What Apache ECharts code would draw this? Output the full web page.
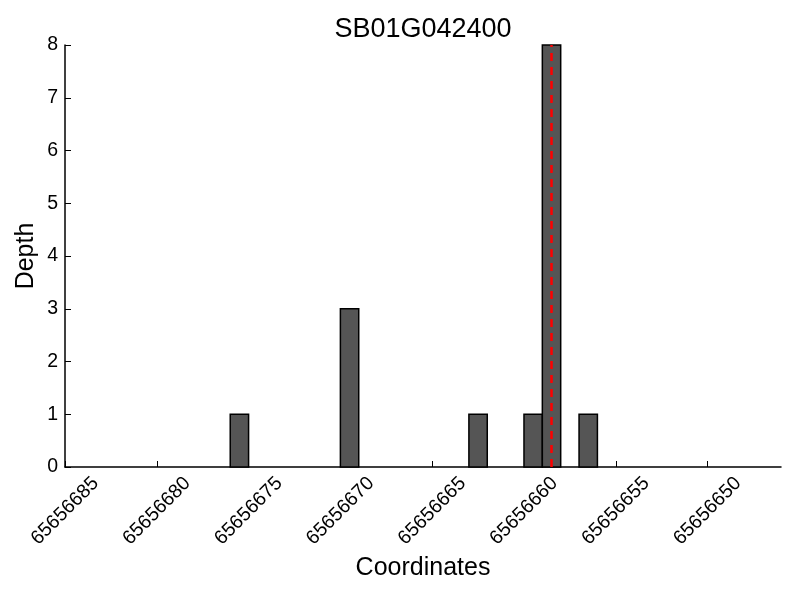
<!DOCTYPE html>
<html>
<head>
<meta charset="utf-8">
<script src="https://cdn.jsdelivr.net/npm/echarts@6/dist/echarts.min.js"></script>
<style>html,body{margin:0;padding:0;background:#fff}#c{width:800px;height:600px}</style>
</head>
<body>
<div id="c"></div>
<script>
// Bin lower edges (each bin is 1 coordinate wide) and depth values
var binStarts = [65656675, 65656669, 65656662, 65656659, 65656658, 65656656];
var depths = [1, 3, 1, 1, 8, 1];
var markerPos = 65656658.5;
var xTicks = [65656650, 65656655, 65656660, 65656665, 65656670, 65656675, 65656680, 65656685];
var yTicks = [0, 1, 2, 3, 4, 5, 6, 7, 8];
var titleText = 'SB01G042400';

var FONT = 'Liberation Sans, Arial, sans-serif';
var chart = echarts.init(document.getElementById('c'), null, {renderer: 'canvas'});
var barData = binStarts.map(function (s, i) { return [s, s + 1, depths[i]]; });

chart.setOption({
  animation: false,
  backgroundColor: '#fff',
  title: {
    text: titleText, left: 418, top: 11, textAlign: 'center',
    textStyle: {fontFamily: FONT, fontSize: 27, fontWeight: 'normal', color: '#000'}
  },
  grid: {left: 65, right: 19, top: 45, bottom: 133, containLabel: false},
  xAxis: {
    type: 'value', inverse: true, min: 65656646, max: 65656685,
    name: 'Coordinates', nameLocation: 'middle', nameGap: 89, nameMoveOverlap: false,
    nameTextStyle: {fontFamily: FONT, fontSize: 25, color: '#000'},
    axisLine: {show: true, onZero: false, lineStyle: {color: '#000', width: 1.5}},
    axisTick: {show: true, inside: true, length: 6, customValues: xTicks, lineStyle: {color: '#000'}},
    axisLabel: {
      customValues: xTicks, rotate: 45, align: 'center', verticalAlign: 'middle', margin: 44,
      fontFamily: FONT, fontSize: 19.5, color: '#000',
      formatter: function (v) { return String(v); }
    },
    splitLine: {show: false}
  },
  yAxis: {
    type: 'value', min: 0, max: 8, interval: 1,
    name: 'Depth', nameLocation: 'middle', nameGap: 26, nameMoveOverlap: false,
    nameTextStyle: {fontFamily: FONT, fontSize: 25, color: '#000'},
    axisLine: {show: true, lineStyle: {color: '#000', width: 1.5}},
    axisTick: {show: true, inside: true, length: 6, lineStyle: {color: '#000'}},
    axisLabel: {fontFamily: FONT, fontSize: 19.5, color: '#000', margin: 7},
    splitLine: {show: false}
  },
  series: [
    {
      type: 'custom',
      data: barData,
      encode: {x: [0, 1], y: 2},
      renderItem: function (params, api) {
        var p0 = api.coord([api.value(0), 0]);
        var p1 = api.coord([api.value(1), api.value(2)]);
        var x = Math.min(p0[0], p1[0]);
        var w = Math.abs(p1[0] - p0[0]);
        return {
          type: 'rect',
          shape: {x: x, y: p1[1], width: w, height: p0[1] - p1[1]},
          style: {fill: '#555555', stroke: '#000', lineWidth: 1.5}
        };
      },
      z: 2
    },
    {
      type: 'line',
      data: [[markerPos, 0], [markerPos, 8]],
      symbol: 'none',
      lineStyle: {color: '#ff0000', width: 2.5, type: [8, 6]},
      z: 3
    }
  ]
});
</script>
</body>
</html>
